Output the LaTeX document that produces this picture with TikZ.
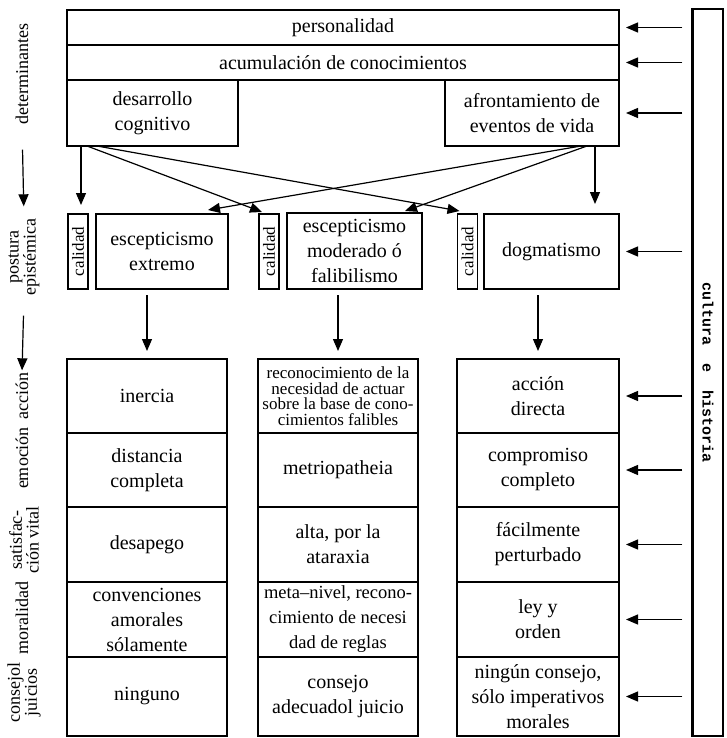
\documentclass[tikz,border=0pt]{standalone}
\usepackage{fontspec}
\setmainfont{Liberation Serif}
\newfontfamily\monofnt{Liberation Mono}
\usetikzlibrary{arrows.meta}

\newcommand\bigtxt{\fontsize{20}{25}\selectfont}
\newcommand\midtxt{\fontsize{18.5}{25}\selectfont}
\newcommand\smalltxt{\fontsize{17}{15.5}\selectfont}
\newcommand\labtxt{\fontsize{18}{17}\selectfont}
\newcommand\caltxt{\fontsize{17}{17}\selectfont}

\tikzset{
  box/.style={draw, line width=1.3pt, inner sep=1pt, outer sep=0pt, align=center, font=\bigtxt},
  calbox/.style={box, minimum width=20, minimum height=75, font=\caltxt},
  cellbox/.style={box, minimum width=160},
  sidelab/.style={rotate=90, inner sep=0pt, align=center, font=\labtxt},
  arr/.style={-{Triangle[length=12pt,width=10pt]}, line width=1.2pt},
}

\begin{document}
\begin{tikzpicture}[x=1pt,y=-1pt]
\useasboundingbox (0,0) rectangle (726,738);

% determinantes
\node[box, minimum width=552, minimum height=35] (pers) at (343,27.5) {personalidad};
\node[box, minimum width=552, minimum height=35] (acum) at (343,62.5) {acumulación de conocimientos};
\node[box, minimum width=171, minimum height=66] (desa) at (152.5,113) {desarrollo\\cognitivo};
\node[box, minimum width=174, minimum height=66] (afro) at (532,113) {afrontamiento de\\eventos de vida};

% postura epistemica
\node[calbox] (cal1) at (78,251.5) {\rotatebox{90}{calidad}};
\node[box, minimum width=132, minimum height=75] (escext) at (162,251.5) {escepticismo\\extremo};
\node[calbox] (cal2) at (269,251.5) {\rotatebox{90}{calidad}};
\node[box, minimum width=135, minimum height=76] (escmod) at (354.5,251) {escepticismo\\moderado ó\\falibilismo};
\node[calbox] (cal3) at (467.5,251.5) {\rotatebox{90}{calidad}};
\node[box, minimum width=135, minimum height=75] (dogma) at (551.5,251.5) {dogmatismo};

% accion
\node[cellbox, minimum height=74] (act1) at (147,396) {inercia};
\node[cellbox, minimum height=74, font=\smalltxt] (act2) at (338,396) {reconocimiento de la\\necesidad de actuar\\sobre la base de cono-\\cimientos falibles};
\node[cellbox, minimum height=74, minimum width=162] (act3) at (538,396) {acción\\directa};
% emocion
\node[cellbox, minimum height=74] (emo1) at (147,470) {distancia\\completa};
\node[cellbox, minimum height=74] (emo2) at (338,470) {metriopatheia};
\node[cellbox, minimum height=74, minimum width=162] (emo3) at (538,470) {compromiso\\completo};
% satisfaccion vital
\node[cellbox, minimum height=75] (sat1) at (147,544.5) {desapego};
\node[cellbox, minimum height=75] (sat2) at (338,544.5) {alta, por la\\ataraxia};
\node[cellbox, minimum height=75, minimum width=162] (sat3) at (538,544.5) {fácilmente\\perturbado};
% moralidad
\node[cellbox, minimum height=75] (mor1) at (147,619.5) {convenciones\\amorales\\sólamente};
\node[cellbox, minimum height=75, font=\midtxt] (mor2) at (338,619.5) {meta–nivel, recono-\\cimiento de necesi\\dad de reglas};
\node[cellbox, minimum height=75, minimum width=162] (mor3) at (538,619.5) {ley y\\orden};
% consejo
\node[cellbox, minimum height=79] (con1) at (147,696.5) {ninguno};
\node[cellbox, minimum height=79] (con2) at (338,696.5) {consejo\\adecuadol juicio};
\node[cellbox, minimum height=79, minimum width=162] (con3) at (538,696.5) {ningún consejo,\\sólo imperativos\\morales};

% cultura e historia
\node[draw, line width=1.2pt, minimum width=30, minimum height=727, inner sep=0pt] (cult) at (708,372.5)
  {\rotatebox{-90}{\monofnt\bfseries\fontsize{15}{15}\selectfont cultura\hspace{18pt}e\hspace{18pt}historia}};
\draw[line width=2.6pt] (cult.north west) -- (cult.south west);

% left labels
\node[sidelab] (detlab) at (22,74) {determinantes};
\node[sidelab] (poslab) at (24,257) {postura\\epistémica};
\node[sidelab] (acclab) at (22,396) {acción};
\node[sidelab] (emolab) at (22,458) {emoción};
\node[sidelab] (satlab) at (24,540) {satisfac-\\ción vital};
\node[sidelab] (morlab) at (22,618) {moralidad};
\node[sidelab] (conlab) at (24,692) {consejol\\juicios};

\draw[arr, shorten <=25pt, shorten >=12pt] (detlab.west) -- (poslab.east);
\draw[arr, shorten <=20pt, shorten >=2pt] (poslab.west) -- (acclab.east);

% arrows from the determinants
\coordinate (d1) at ([xshift=14]desa.south west);
\coordinate (d2) at ([xshift=20]desa.south west);
\coordinate (d3) at ([xshift=30]desa.south west);
\coordinate (a1) at ([xshift=-38]afro.south east);
\coordinate (a2) at ([xshift=-32]afro.south east);
\coordinate (a3) at ([xshift=-24]afro.south east);

\draw[arr, shorten >=9pt] (d1) -- (d1 |- cal1.north);
\draw[arr] (d2) -- ([xshift=-7,yshift=2]cal2.north);
\draw[arr] (d3) -- ([xshift=-8,yshift=3]cal3.north);
\draw[arr] (a1) -- ([xshift=-20,yshift=4]escext.north east);
\draw[arr] (a2) -- ([xshift=-17,yshift=2]escmod.north east);
\draw[arr, shorten >=10pt] (a3) -- (a3 |- dogma.north);

% arrows down to the consequences
\draw[arr, shorten <=6pt, shorten >=8pt] (escext.south -| act1.north) -- (act1.north);
\draw[arr, shorten <=6pt, shorten >=8pt] (escmod.south -| act2.north) -- (act2.north);
\draw[arr, shorten <=6pt, shorten >=8pt] (dogma.south -| act3.north) -- (act3.north);

% influence of culture and history
\foreach \n in {pers,acum,afro,dogma,act3,emo3,sat3,mor3,con3}
  \draw[arr, shorten <=10pt, shorten >=7pt] (cult.west |- \n.east) -- (\n.east);
\end{tikzpicture}
\end{document}
